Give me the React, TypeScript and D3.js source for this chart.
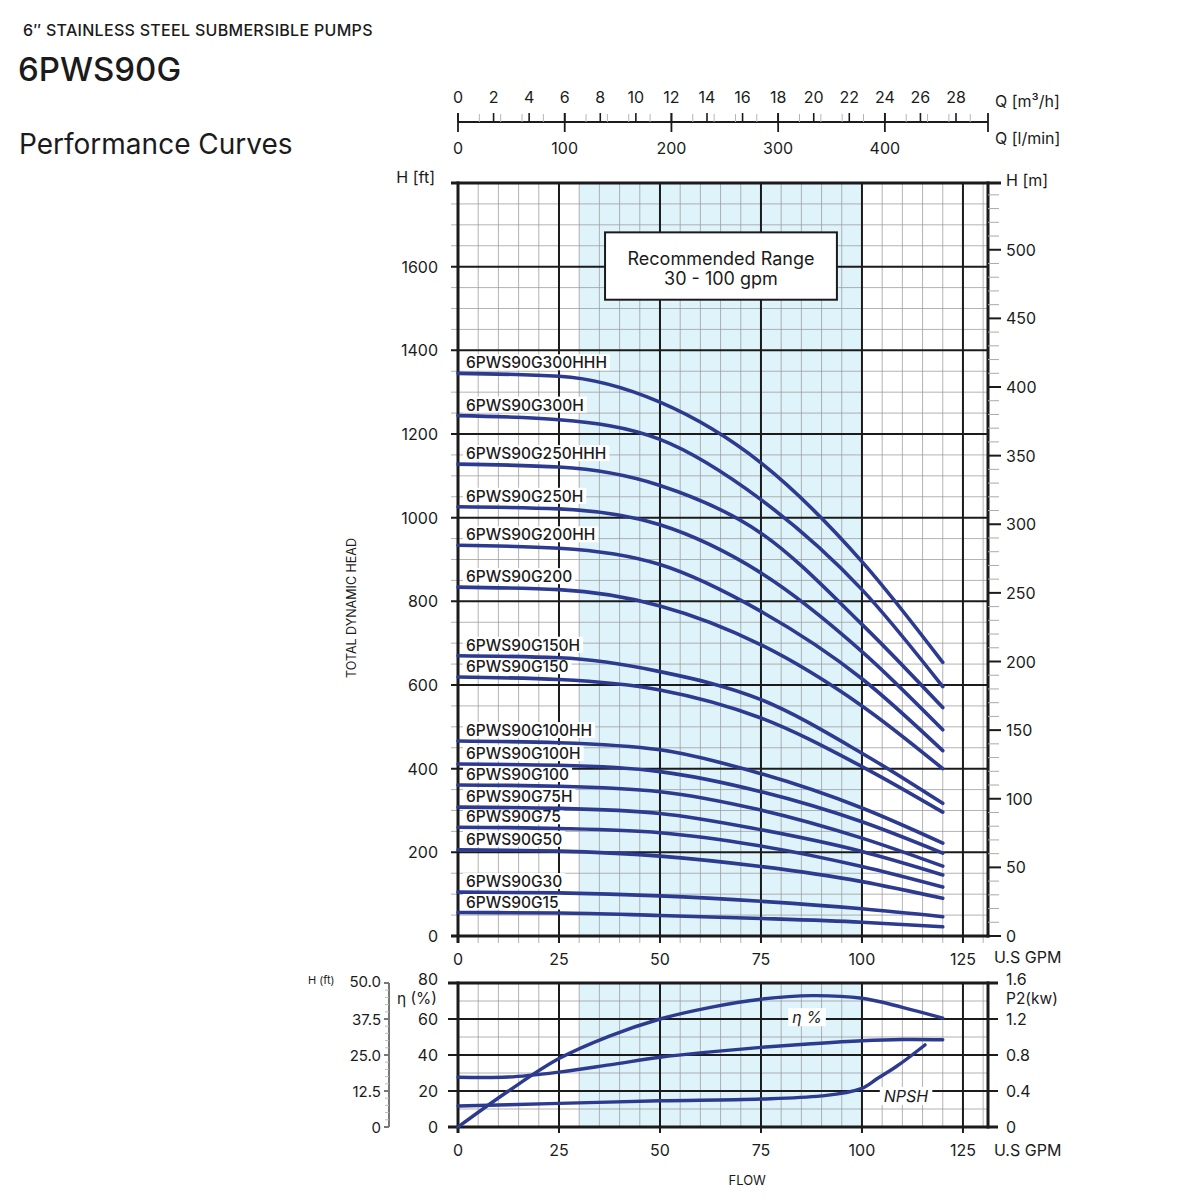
import React, { useEffect, useRef } from 'react';
import * as d3 from 'd3';

// flow points (US GPM) where the head curves were read
const flowGpm = [0, 25, 50, 75, 100, 120];

// head in ft for each model
const head300HHH = [1345, 1338, 1276, 1131, 895, 654];
const head300H = [1244, 1234, 1187, 1043, 828, 596];
const head250HHH = [1128, 1121, 1077, 963, 745, 546];
const head250H = [1026, 1021, 983, 868, 680, 493];
const head200HH = [934, 927, 888, 776, 615, 443];
const head200 = [834, 828, 789, 696, 550, 400];
const head150H = [670, 665, 632, 565, 437, 317];
const head150 = [619, 613, 588, 521, 405, 296];
const head100HH = [466, 462, 445, 388, 306, 222];
const head100H = [411, 408, 393, 345, 273, 198];
const head100 = [361, 358, 345, 301, 234, 167];
const head75H = [308, 305, 293, 254, 202, 146];
const head75 = [260, 257, 247, 215, 166, 117];
const head50 = [206, 203, 191, 166, 130, 90];
const head30 = [105, 103, 96, 83, 65, 46];
const head15 = [56, 55, 49, 42, 33, 22];

const models = [
  { name: '6PWS90G300HHH', head: head300HHH },
  { name: '6PWS90G300H', head: head300H },
  { name: '6PWS90G250HHH', head: head250HHH },
  { name: '6PWS90G250H', head: head250H },
  { name: '6PWS90G200HH', head: head200HH },
  { name: '6PWS90G200', head: head200 },
  { name: '6PWS90G150H', head: head150H },
  { name: '6PWS90G150', head: head150 },
  { name: '6PWS90G100HH', head: head100HH },
  { name: '6PWS90G100H', head: head100H },
  { name: '6PWS90G100', head: head100 },
  { name: '6PWS90G75H', head: head75H },
  { name: '6PWS90G75', head: head75 },
  { name: '6PWS90G50', head: head50 },
  { name: '6PWS90G30', head: head30 },
  { name: '6PWS90G15', head: head15 },
];

// lower chart: efficiency, power, NPSH
const effFlow = [0, 12.5, 25, 37.5, 50, 62.5, 75, 87.5, 100, 110, 120];
const effPct = [0, 20, 38, 50.5, 60, 66.5, 71, 73, 71.5, 66.5, 60.5];
const powerFlow = [0, 12.5, 25, 37.5, 50, 62.5, 75, 87.5, 100, 110, 120];
const powerKw = [0.553, 0.555, 0.61, 0.69, 0.775, 0.835, 0.885, 0.925, 0.958, 0.972, 0.97];
const npshFlow = [0, 25, 50, 75, 90, 100, 104, 108.5, 115.6];
const npshFt = [7.3, 8.2, 9.1, 9.7, 10.8, 13.4, 17, 21, 28.5];

// axis ticks
const gpmTicks = [0, 25, 50, 75, 100, 125];
const ftTicks = [0, 200, 400, 600, 800, 1000, 1200, 1400, 1600];
const mTicks = [0, 50, 100, 150, 200, 250, 300, 350, 400, 450, 500];
const m3hTicks = [0, 2, 4, 6, 8, 10, 12, 14, 16, 18, 20, 22, 24, 26, 28];
const lminTicks = [0, 100, 200, 300, 400];
const effTicks = [0, 20, 40, 60, 80];
const kwTicks = ['0', '0.4', '0.8', '1.2', '1.6'];
const npshTicks = ['0', '12.5', '25.0', '37.5', '50.0'];

const BLUE = '#2c3a8f';
const INK = '#1b1b1b';
const FONT = 'Inter, sans-serif';

const App = () => {
  const svgRef = useRef<SVGSVGElement>(null);

  useEffect(() => {
    const svg = d3.select(svgRef.current);
    svg.selectAll('*').remove();
    svg.attr('font-family', FONT);

    const L = 458, R = 988, T = 183, B = 936;
    const T2 = 983, B2 = 1127;

    const x = d3.scaleLinear().domain([0, 131.2]).range([L, R]);
    const yFt = d3.scaleLinear().domain([0, 1800]).range([B, T]);
    const yM = d3.scaleLinear().domain([0, 1800 / 3.28084]).range([B, T]);
    const xM3 = d3.scaleLinear().domain([0, 131.2 * 0.227125]).range([L, R]);
    const xLm = d3.scaleLinear().domain([0, 131.2 * 3.78541]).range([L, R]);
    const yEff = d3.scaleLinear().domain([0, 80]).range([B2, T2]);
    const yKw = d3.scaleLinear().domain([0, 1.6]).range([B2, T2]);
    const yNp = d3.scaleLinear().domain([0, 50]).range([B2, T2]);

    const txt = (s: string, px: number, py: number, size: number, anchor = 'start', extra: any = {}) => {
      const t = svg.append('text')
        .attr('x', px).attr('y', py)
        .attr('font-size', size)
        .attr('fill', INK)
        .attr('text-anchor', anchor)
        .attr('dominant-baseline', extra.baseline || 'central')
        .text(s);
      if (extra.weight) t.attr('font-weight', extra.weight);
      if (extra.italic) t.attr('font-style', 'italic');
      if (extra.spacing) t.attr('letter-spacing', extra.spacing);
      return t;
    };

    // titles
    txt('6\u2033 STAINLESS STEEL SUBMERSIBLE PUMPS', 23, 36, 16, 'start', { baseline: 'auto', weight: 500, spacing: 0.3 });
    txt('6PWS90G', 18, 81, 33, 'start', { baseline: 'auto', weight: 500 });
    txt('Performance Curves', 19, 154, 28, 'start', { baseline: 'auto' });

    // ---------- top flow axes ----------
    const axY = 122;
    svg.append('line').attr('x1', L).attr('x2', R).attr('y1', axY).attr('y2', axY)
      .attr('stroke', INK).attr('stroke-width', 2);
    d3.range(20, 481, 20).filter(v => v % 100 !== 0).forEach(v => {
      svg.append('line').attr('x1', xLm(v)).attr('x2', xLm(v)).attr('y1', axY).attr('y2', axY - 8)
        .attr('stroke', '#b5b5b5').attr('stroke-width', 1);
    });
    m3hTicks.forEach(v => {
      svg.append('line').attr('x1', xM3(v)).attr('x2', xM3(v)).attr('y1', axY).attr('y2', axY - 9)
        .attr('stroke', INK).attr('stroke-width', 1.6);
      txt(String(v), xM3(v), 97, 16, 'middle');
    });
    lminTicks.forEach(v => {
      svg.append('line').attr('x1', xLm(v)).attr('x2', xLm(v)).attr('y1', axY - 9).attr('y2', axY + 10)
        .attr('stroke', INK).attr('stroke-width', 1.8);
      txt(String(v), xLm(v), 148, 16, 'middle');
    });
    svg.append('line').attr('x1', R).attr('x2', R).attr('y1', axY - 9).attr('y2', axY + 10)
      .attr('stroke', INK).attr('stroke-width', 1.8);
    txt('Q [m\u00b3/h]', 995, 101, 16);
    txt('Q [l/min]', 995, 138, 16);

    // ---------- main head chart ----------
    svg.append('rect').attr('x', x(30)).attr('y', T).attr('width', x(100) - x(30)).attr('height', B - T)
      .attr('fill', '#dff3fa');

    const minorX = d3.range(5, 131, 5).filter(v => v % 25 !== 0);
    minorX.forEach(v => {
      svg.append('line').attr('x1', x(v)).attr('x2', x(v)).attr('y1', T).attr('y2', B + 7)
        .attr('stroke', '#999').attr('stroke-opacity', 0.75).attr('stroke-width', 1);
    });
    const minorY = d3.range(50, 1800, 50).filter(v => v % 200 !== 0);
    minorY.forEach(v => {
      svg.append('line').attr('x1', L - 7).attr('x2', R).attr('y1', yFt(v)).attr('y2', yFt(v))
        .attr('stroke', '#999').attr('stroke-opacity', 0.75).attr('stroke-width', 1);
    });
    gpmTicks.slice(1).forEach(v => {
      svg.append('line').attr('x1', x(v)).attr('x2', x(v)).attr('y1', T).attr('y2', B + 7)
        .attr('stroke', INK).attr('stroke-width', 2);
    });
    ftTicks.slice(1).forEach(v => {
      svg.append('line').attr('x1', L - 7).attr('x2', R).attr('y1', yFt(v)).attr('y2', yFt(v))
        .attr('stroke', INK).attr('stroke-width', 2);
    });
    // frame
    svg.append('line').attr('x1', L).attr('x2', L).attr('y1', T - 1.5).attr('y2', B + 7).attr('stroke', INK).attr('stroke-width', 3);
    svg.append('line').attr('x1', R).attr('x2', R).attr('y1', T - 1.5).attr('y2', B + 1.5).attr('stroke', INK).attr('stroke-width', 3);
    svg.append('line').attr('x1', L - 7).attr('x2', R + 13).attr('y1', T).attr('y2', T).attr('stroke', INK).attr('stroke-width', 3);
    svg.append('line').attr('x1', L - 7).attr('x2', R + 1.5).attr('y1', B).attr('y2', B).attr('stroke', INK).attr('stroke-width', 3);

    // right metre axis
    d3.range(10, 541, 10).filter(v => v % 50 !== 0).forEach(v => {
      svg.append('line').attr('x1', R).attr('x2', R + 11).attr('y1', yM(v)).attr('y2', yM(v))
        .attr('stroke', '#aaa').attr('stroke-width', 1);
    });
    mTicks.forEach(v => {
      svg.append('line').attr('x1', R).attr('x2', R + 13).attr('y1', yM(v)).attr('y2', yM(v))
        .attr('stroke', INK).attr('stroke-width', 2);
      txt(String(v), 1006, yM(v), 16);
    });
    txt('H [m]', 1006, 180, 16);

    // left ft axis labels
    ftTicks.forEach(v => txt(String(v), 438, yFt(v), 16, 'end'));
    txt('H [ft]', 435, 177, 16, 'end');
    txt('TOTAL DYNAMIC HEAD', 0, 0, 12.5, 'middle')
      .attr('transform', `translate(351,608) rotate(-90)`);

    // x labels
    gpmTicks.forEach(v => txt(String(v), x(v), 959, 16, 'middle'));
    txt('U.S GPM', 994, 957, 16);

    // recommended range box
    svg.append('rect')
      .attr('x', x(36.4)).attr('y', yFt(1682))
      .attr('width', x(93.8) - x(36.4)).attr('height', yFt(1521) - yFt(1682))
      .attr('fill', '#fff').attr('stroke', INK).attr('stroke-width', 2);
    txt('Recommended Range', x(65.1), 258, 18, 'middle');
    txt('30 - 100 gpm', x(65.1), 278, 18, 'middle');

    // curve labels with white backing
    models.forEach(m => {
      const ly = yFt(m.head[0]) - 5;
      const bg = svg.append('rect').attr('fill', '#fff');
      const t = txt(m.name, 466, ly, 15.5, 'start', { baseline: 'auto', weight: 500 });
      const bb = (t.node() as SVGTextElement).getBBox();
      bg.attr('x', bb.x - 3).attr('y', bb.y + 1).attr('width', bb.width + 6).attr('height', bb.height - 3);
    });

    const headLine = d3.line<number>()
      .x((_, i) => x(flowGpm[i]))
      .y(d => yFt(d))
      .curve(d3.curveMonotoneX);
    models.forEach(m => {
      svg.append('path').attr('d', headLine(m.head) as string)
        .attr('fill', 'none').attr('stroke', BLUE).attr('stroke-width', 3.6).attr('stroke-linecap', 'round');
    });

    // ---------- lower chart ----------
    svg.append('rect').attr('x', x(30)).attr('y', T2).attr('width', x(100) - x(30)).attr('height', B2 - T2)
      .attr('fill', '#dff3fa');
    minorX.forEach(v => {
      svg.append('line').attr('x1', x(v)).attr('x2', x(v)).attr('y1', T2).attr('y2', B2)
        .attr('stroke', '#999').attr('stroke-opacity', 0.75).attr('stroke-width', 1);
    });
    [10, 30, 50, 70].forEach(v => {
      svg.append('line').attr('x1', L).attr('x2', R).attr('y1', yEff(v)).attr('y2', yEff(v))
        .attr('stroke', '#999').attr('stroke-opacity', 0.75).attr('stroke-width', 1);
    });
    gpmTicks.slice(1).forEach(v => {
      svg.append('line').attr('x1', x(v)).attr('x2', x(v)).attr('y1', T2).attr('y2', B2 + 6)
        .attr('stroke', INK).attr('stroke-width', 2);
    });
    [20, 40, 60].forEach(v => {
      svg.append('line').attr('x1', L - 10).attr('x2', R + 10).attr('y1', yEff(v)).attr('y2', yEff(v))
        .attr('stroke', INK).attr('stroke-width', 2);
    });
    svg.append('line').attr('x1', L).attr('x2', L).attr('y1', T2 - 1.5).attr('y2', B2 + 6).attr('stroke', INK).attr('stroke-width', 3);
    svg.append('line').attr('x1', R).attr('x2', R).attr('y1', T2 - 1.5).attr('y2', B2 + 1.5).attr('stroke', INK).attr('stroke-width', 3);
    svg.append('line').attr('x1', L - 10).attr('x2', R + 10).attr('y1', T2).attr('y2', T2).attr('stroke', INK).attr('stroke-width', 3);
    svg.append('line').attr('x1', L - 10).attr('x2', R + 10).attr('y1', B2).attr('y2', B2).attr('stroke', INK).attr('stroke-width', 3);

    effTicks.forEach(v => txt(String(v), 438, v === 80 ? 979 : yEff(v), 16, 'end'));
    txt('\u03b7 (%)', 437, 998, 15.5, 'end');
    kwTicks.forEach((s, i) => txt(s, 1006, i === 4 ? 979 : yKw(+s), 16));
    txt('P2(kw)', 1006, 998, 15.5);

    // NPSH (ft) axis on the far left
    svg.append('line').attr('x1', 389).attr('x2', 389).attr('y1', yNp(50)).attr('y2', yNp(0))
      .attr('stroke', '#777').attr('stroke-width', 2);
    d3.range(2.5, 50, 2.5).filter(v => v % 12.5 !== 0).forEach(v => {
      svg.append('line').attr('x1', 385).attr('x2', 389).attr('y1', yNp(v)).attr('y2', yNp(v))
        .attr('stroke', '#bbb').attr('stroke-width', 1);
    });
    npshTicks.forEach(s => {
      svg.append('line').attr('x1', 384).attr('x2', 389).attr('y1', yNp(+s)).attr('y2', yNp(+s))
        .attr('stroke', '#777').attr('stroke-width', 2);
      txt(s, 381, +s === 50 ? 981 : yNp(+s), 15, 'end');
    });
    txt('H (ft)', 308, 980, 11);

    gpmTicks.forEach(v => txt(String(v), x(v), 1150, 16, 'middle'));
    txt('U.S GPM', 994, 1150, 16);
    txt('FLOW', x(71.6), 1180, 13, 'middle');

    const effLine = d3.line<number>().x((_, i) => x(effFlow[i])).y(d => yEff(d)).curve(d3.curveCatmullRom.alpha(0.5));
    const kwLine = d3.line<number>().x((_, i) => x(powerFlow[i])).y(d => yKw(d)).curve(d3.curveCatmullRom.alpha(0.5));
    const npLine = d3.line<number>().x((_, i) => x(npshFlow[i])).y(d => yNp(d)).curve(d3.curveMonotoneX);
    [effLine(effPct), kwLine(powerKw), npLine(npshFt)].forEach(d => {
      svg.append('path').attr('d', d as string)
        .attr('fill', 'none').attr('stroke', BLUE).attr('stroke-width', 3.4).attr('stroke-linecap', 'round');
    });

    const tag = (s: string, px: number, py: number) => {
      const bg = svg.append('rect').attr('fill', '#fff');
      const t = txt(s, px, py, 16, 'middle', { italic: true });
      const bb = (t.node() as SVGTextElement).getBBox();
      bg.attr('x', bb.x - 4).attr('y', bb.y + 1).attr('width', bb.width + 8).attr('height', bb.height - 2);
    };
    tag('\u03b7 %', x(86.4), yEff(61));
    tag('NPSH', x(110.9), yNp(10.8));
  }, []);

  return (
    <svg
      ref={svgRef}
      width={1200}
      height={1200}
      style={{ position: 'absolute', left: 0, top: 0, background: '#fff' }}
    />
  );
};

export default App;
